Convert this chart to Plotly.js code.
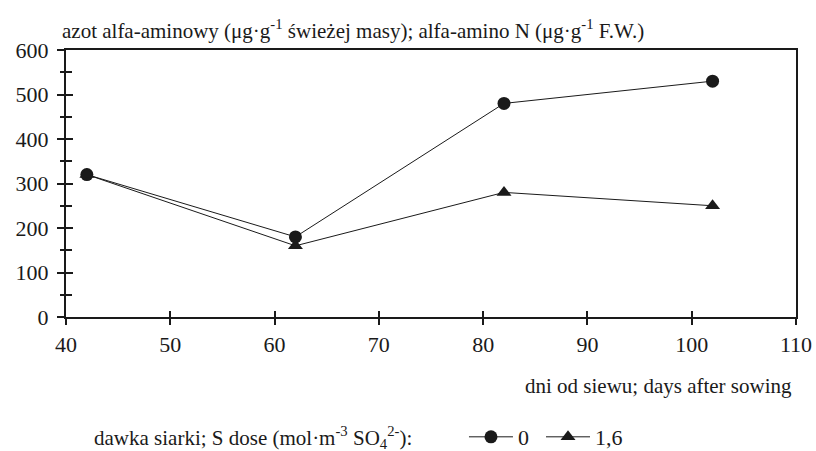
<!DOCTYPE html>
<html><head><meta charset="utf-8">
<script src="https://cdn.plot.ly/plotly-3.0.1.min.js"></script>
<style>body{margin:0;background:#fff}#c{width:816px;height:451px}</style>
</head><body><div id="c"></div>
<script>
const days = [42, 62, 82, 102];
const dose0 = [320, 180, 480, 530];
const dose16 = [320, 160, 280, 250];
const seriesNames = ['0', '1,6'];
const xTicks = [40, 50, 60, 70, 80, 90, 100, 110];
const yTicks = [0, 100, 200, 300, 400, 500, 600];

const F = '"Liberation Serif", "Times New Roman", Times, serif';
const ink = '#1a1a1a';
const traces = [
  {x: days, y: dose0, name: seriesNames[0], mode: 'lines+markers', type: 'scatter', legend: 'legend',
   line: {color: ink, width: 1}, marker: {symbol: 'circle', size: 13, color: ink}},
  {x: days, y: dose16, name: seriesNames[1], mode: 'lines+markers', type: 'scatter', legend: 'legend2',
   line: {color: ink, width: 1}, marker: {symbol: 'triangle-up', size: 13, color: ink}},
  {x: [], y: [], xaxis: 'x2', yaxis: 'y2', showlegend: false, type: 'scatter'}
];
const legendBase = {orientation: 'h', xref: 'container', yref: 'container', xanchor: 'left',
           y: 0.031, yanchor: 'middle', font: {family: F, size: 22, color: ink},
           itemwidth: 44, bgcolor: 'rgba(0,0,0,0)'};
const layout = {
  width: 816, height: 451,
  margin: {l: 66, r: 20, t: 50, b: 134},
  paper_bgcolor: '#fff', plot_bgcolor: '#fff',
  font: {family: F, size: 21, color: ink},
  showlegend: true,
  legend: Object.assign({}, legendBase, {x: 0.5686}),
  legend2: Object.assign({}, legendBase, {x: 0.663}),
  xaxis: {range: [40, 110], tickvals: xTicks, ticktext: xTicks.map(String), automargin: false,
          showline: true, linecolor: ink, linewidth: 2, mirror: true,
          ticks: 'outside', ticklen: 6, tickwidth: 2, tickcolor: ink,
          showgrid: false, zeroline: false, ticklabelstandoff: 1,
          tickfont: {family: F, size: 22, color: ink}},
  yaxis: {range: [0, 600], tickvals: yTicks, ticktext: yTicks.map(String), automargin: false,
          showline: true, linecolor: ink, linewidth: 2, mirror: true,
          ticks: 'outside', ticklen: 7, tickwidth: 2, tickcolor: ink,
          showgrid: false, zeroline: false, ticklabelstandoff: 4,
          minor: {dtick: 50, ticks: 'outside', ticklen: 4, tickwidth: 2, tickcolor: ink},
          tickfont: {family: F, size: 22, color: ink}},
  xaxis2: {overlaying: 'x', matches: 'x', range: [40, 110], tickvals: xTicks, automargin: false,
           showticklabels: false, ticks: 'inside', ticklen: 6, tickwidth: 2, tickcolor: ink,
           showgrid: false, zeroline: false, anchor: 'y2'},
  yaxis2: {overlaying: 'y', range: [0, 600], tickvals: yTicks, side: 'left', automargin: false,
           showticklabels: false, ticks: 'inside', ticklen: 7, tickwidth: 2, tickcolor: ink,
           minor: {dtick: 50, ticks: 'inside', ticklen: 6, tickwidth: 2, tickcolor: ink},
           showgrid: false, zeroline: false, anchor: 'x2'},
  annotations: [
    {text: 'azot alfa-aminowy (μg·g<sup>-1</sup> świeżej masy); alfa-amino N (μg·g<sup>-1</sup> F.W.)',
     xref: 'paper', yref: 'paper', x: -0.008, y: 1.0, yshift: 21, xanchor: 'left', yanchor: 'middle',
     showarrow: false, font: {family: F, size: 21, color: ink}},
    {text: 'dni od siewu; days after sowing', xref: 'paper', yref: 'paper', x: 0.997, y: 0,
     yshift: -69, xanchor: 'right', yanchor: 'middle', showarrow: false,
     font: {family: F, size: 21, color: ink}},
    {text: 'dawka siarki; S dose (mol·m<sup>-3</sup> SO<sub>4</sub><sup>2-</sup>):',
     xref: 'paper', yref: 'paper', x: 0.0356, y: 0, yshift: -120, xanchor: 'left', yanchor: 'middle',
     showarrow: false, font: {family: F, size: 21, color: ink}}
  ]
};
Plotly.newPlot('c', traces, layout, {displayModeBar: false, staticPlot: true});
</script></body></html>
